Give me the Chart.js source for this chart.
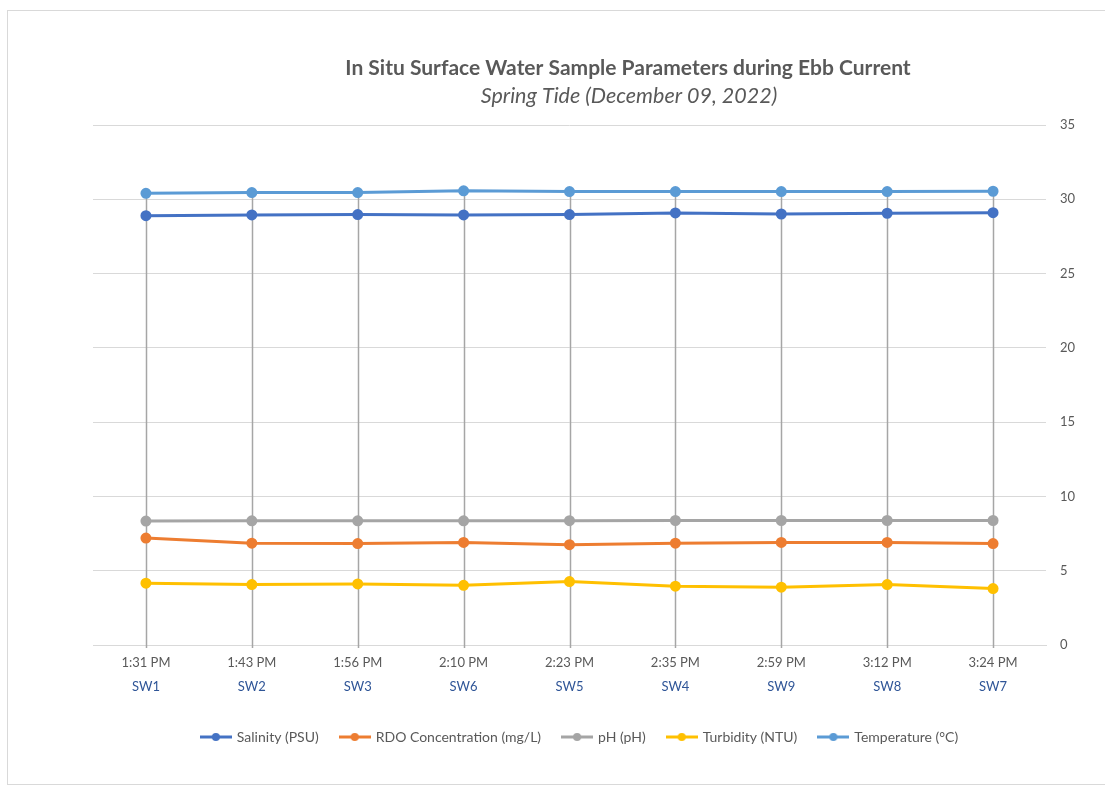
<!DOCTYPE html>
<html>
<head>
<meta charset="utf-8">
<script src="https://cdn.jsdelivr.net/npm/chart.js@4.4.1/dist/chart.umd.min.js"></script>
<style>
  html, body { margin: 0; padding: 0; background: #fff; overflow: hidden; }
  #wrap { position: relative; width: 1105px; height: 786px; }
  #frame { position: absolute; left: 7px; top: 10px; width: 1200px; height: 775px; border: 1px solid #d9d9d9; box-sizing: border-box; }
  #chart { position: absolute; left: 0; top: 0; }
</style>
</head>
<body>
<div id="wrap">
  <div id="frame"></div>
  <canvas id="chart" width="1105" height="786"></canvas>
</div>
<script>
// data
const times = ['1:31 PM', '1:43 PM', '1:56 PM', '2:10 PM', '2:23 PM', '2:35 PM', '2:59 PM', '3:12 PM', '3:24 PM'];
const stations = ['SW1', 'SW2', 'SW3', 'SW6', 'SW5', 'SW4', 'SW9', 'SW8', 'SW7'];
const salinity = [28.90, 28.95, 28.97, 28.95, 28.97, 29.08, 29.01, 29.06, 29.10];
const rdo = [7.20, 6.85, 6.83, 6.90, 6.75, 6.85, 6.90, 6.90, 6.83];
const ph = [8.34, 8.36, 8.36, 8.36, 8.37, 8.38, 8.38, 8.38, 8.38];
const turbidity = [4.16, 4.07, 4.11, 4.02, 4.27, 3.96, 3.89, 4.07, 3.80];
const temperature = [30.40, 30.45, 30.45, 30.57, 30.52, 30.52, 30.52, 30.52, 30.54];
const yTicks = [0, 5, 10, 15, 20, 25, 30, 35];

const FONT = 'Lato, "Liberation Sans", sans-serif';
const GREY_TEXT = '#595959';

// little "line with marker" swatch for the legend
function swatch(color){
  var c = document.createElement('canvas');
  c.width = 32; c.height = 10;
  var g = c.getContext('2d');
  g.strokeStyle = color; g.lineWidth = 3;
  g.beginPath(); g.moveTo(0, 5); g.lineTo(32, 5); g.stroke();
  g.fillStyle = color;
  g.beginPath(); g.arc(16, 5, 4, 0, Math.PI * 2); g.fill();
  return c;
}

function series(label, data, color){
  return {
    label: label, data: data,
    borderColor: color, backgroundColor: color,
    pointBackgroundColor: color, pointBorderColor: color,
    borderWidth: 3, pointRadius: 4, pointHoverRadius: 4,
    tension: 0, pointStyle: 'circle'
  };
}

// drop lines from the highest point down to the axis
const dropLines = {
  id: 'dropLines',
  beforeDatasetsDraw(chart){
    const ctx = chart.ctx, x = chart.scales.x, y = chart.scales.y;
    ctx.save();
    ctx.strokeStyle = '#a6a6a6';
    ctx.lineWidth = 1.5;
    times.forEach(function(t, i){
      const top = Math.max(salinity[i], rdo[i], ph[i], turbidity[i], temperature[i]);
      const px = Math.round(x.getPixelForValue(i)) + 0.5;
      ctx.beginPath();
      ctx.moveTo(px, y.getPixelForValue(top));
      ctx.lineTo(px, chart.chartArea.bottom + 3);
      ctx.stroke();
    });
    ctx.restore();
  }
};

// legend in the original sits a bit left of the plot centre
const legendShift = {
  id: 'legendShift',
  afterLayout(chart){
    if (chart.legend) chart.legend.left -= 38;
  }
};

// two-line title, offset to the right like the original
const titleText = {
  id: 'titleText',
  afterDraw(chart){
    const ctx = chart.ctx;
    ctx.save();
    ctx.fillStyle = GREY_TEXT;
    ctx.textAlign = 'center';
    ctx.textBaseline = 'middle';
    ctx.font = 'bold 21px ' + FONT;
    ctx.fillText('In Situ Surface Water Sample Parameters during Ebb Current', 628, 68);
    ctx.font = 'italic 21.5px ' + FONT;
    ctx.fillText('Spring Tide (December 09, 2022)', 629, 96);
    ctx.restore();
  }
};

new Chart(document.getElementById('chart'), {
  type: 'line',
  data: {
    labels: times,
    datasets: [
      series('Salinity (PSU)', salinity, '#4472c4'),
      series('RDO Concentration (mg/L)', rdo, '#ed7d31'),
      series('pH (pH)', ph, '#a5a5a5'),
      series('Turbidity (NTU)', turbidity, '#ffc000'),
      series('Temperature (°C)', temperature, '#5b9bd5')
    ]
  },
  options: {
    responsive: false,
    animation: false,
    devicePixelRatio: 1,
    layout: { padding: { left: 93, right: 0, top: 125, bottom: 32 } },
    plugins: {
      title: { display: false },
      tooltip: { enabled: false },
      legend: {
        position: 'bottom',
        labels: {
          usePointStyle: true,
          pointStyleWidth: 28,
          padding: 22,
          color: GREY_TEXT,
          font: { family: FONT, size: 14 },
          generateLabels(chart){
            const items = Chart.defaults.plugins.legend.labels.generateLabels(chart);
            items.forEach(function(it){ it.pointStyle = swatch(it.strokeStyle); });
            return items;
          }
        }
      }
    },
    scales: {
      x: {
        type: 'category',
        offset: true,
        grid: { display: false, drawTicks: false },
        border: { display: true, color: '#d9d9d9', width: 1 },
        ticks: { color: GREY_TEXT, padding: 10, maxRotation: 0, autoSkip: false, font: { family: FONT, size: 13 } },
        afterFit(s){ s.height = 28; }
      },
      x2: {
        type: 'category',
        labels: stations,
        position: 'bottom',
        offset: true,
        grid: { display: false, drawTicks: false },
        border: { display: false },
        ticks: { color: '#2f5597', padding: 6, maxRotation: 0, autoSkip: false, font: { family: FONT, size: 13 } },
        afterFit(s){ s.height = 35; }
      },
      y: {
        position: 'right',
        min: 0, max: 35,
        afterBuildTicks(s){ s.ticks = yTicks.map(function(v){ return { value: v }; }); },
        grid: { color: '#d9d9d9', lineWidth: 1, drawTicks: false },
        border: { display: false },
        ticks: { color: GREY_TEXT, padding: 14, font: { family: FONT, size: 13 } },
        afterFit(s){ s.width = 59; }
      }
    }
  },
  plugins: [dropLines, legendShift, titleText]
});
</script>
</body>
</html>
